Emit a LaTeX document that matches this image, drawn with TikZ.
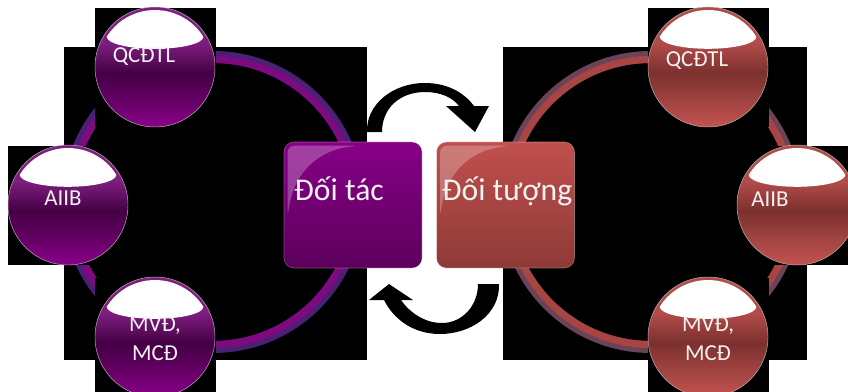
\documentclass[tikz,border=0pt]{standalone}
\usepackage{fontspec}
\setmainfont{Carlito}
\usetikzlibrary{calc}

\definecolor{ringviolet}{HTML}{4B1F74}
\definecolor{ringplum}{HTML}{7D0A7F}
\definecolor{ringgrey}{HTML}{6B4358}
\definecolor{ringred}{HTML}{A84543}
\definecolor{sqplumtop}{HTML}{870087}
\definecolor{sqplumbot}{HTML}{5C005C}
\definecolor{sqredtop}{HTML}{C0504D}
\definecolor{sqredbot}{HTML}{8E3936}
\definecolor{txtwhite}{HTML}{F2F2F2}
% ball colours, bottom to top
\definecolor{plumA}{HTML}{8A008A}
\definecolor{plumB}{HTML}{680068}
\definecolor{plumC}{HTML}{440044}
\definecolor{plumD}{HTML}{7E1E80}
\definecolor{redA}{HTML}{C4524F}
\definecolor{redB}{HTML}{A44543}
\definecolor{redC}{HTML}{7C302E}
\definecolor{redD}{HTML}{B24C4A}
\pgfdeclareverticalshading{plumshade}{100bp}{color(0bp)=(plumA); color(25bp)=(plumA); color(35bp)=(plumB); color(47.5bp)=(plumC); color(60bp)=(plumD); color(100bp)=(plumD)}
\pgfdeclareverticalshading{redshade}{100bp}{color(0bp)=(redA); color(25bp)=(redA); color(35bp)=(redB); color(47.5bp)=(redC); color(60bp)=(redD); color(100bp)=(redD)}

\tikzset{ball/.style={circle, inner sep=0pt, outer sep=0pt, minimum size=3.6cm, draw=gray!55, line width=0.4pt},
  ballp/.style={ball, shading=plumshade},
  ballr/.style={ball, shading=redshade},
  card/.style={rounded corners=0.3cm, minimum width=4.14cm, minimum height=3.78cm, inner sep=0pt, draw=white, draw opacity=0.3, line width=0.5pt},
  balltxt/.style={text=txtwhite, font=\fontsize{19.5}{24.75}\selectfont, align=center, inner sep=0pt},
  cardtxt/.style={text=txtwhite, font=\fontsize{27}{32}\selectfont, inner sep=0pt},
  gloss/.style={fill=white, opacity=0.25, rounded corners=0.2cm}}

\begin{document}
\begin{tikzpicture}[x=0.03cm,y=0.03cm]
\fill[white] (0,0) rectangle (848,-391);
\useasboundingbox (0,0) rectangle (848,-391);

% dark backdrops
\fill[black] (64,-47) rectangle (367,-360);
\fill[black] (503,-47) rectangle (807,-360);

% rings
\coordinate (lc) at (213,-202);
\coordinate (rc) at (651,-202);
\draw[ringviolet, line width=0.36cm] (lc) circle (145);
\draw[ringplum, line width=0.21cm] (lc) circle (142.5);
\draw[ringgrey, line width=0.36cm] (rc) circle (145);
\draw[ringred, line width=0.21cm] (rc) circle (142.5);

% balls
\foreach \nm/\x/\y/\sty in {lq/155/67/ballp, la/68/205/ballp, lm/155/337/ballp, rq/708/67/ballr, ra/797/205/ballr, rm/708/337/ballr}{
    \fill[black] (\x-60,-\y+59) rectangle (\x+61,-\y-60);
    \node[\sty] (\nm) at (\x,-\y) {};
    \fill[white] ($(\nm)+(148:57)$) arc[start angle=148, end angle=32, radius=57]
        arc[start angle=0, end angle=-180, x radius=48.3, y radius=12] -- cycle;
}
\node[balltxt, anchor=base] (lq-t) at (144,-62) {QCĐTL};
\node[balltxt, anchor=base] (la-t) at (63,-205) {AIIB};
\node[balltxt] (lm-t) at (155,-339) {MVĐ,\\MCĐ};
\node[balltxt, anchor=base] (rq-t) at (697,-66) {QCĐTL};
\node[balltxt, anchor=base] (ra-t) at (770,-206) {AIIB};
\node[balltxt] (rm-t) at (708,-339) {MVĐ,\\MCĐ};

% cards
\node[card, top color=sqplumtop, bottom color=sqplumbot] (doitac) at (353,-205) {};
\node[card, top color=sqredtop, bottom color=sqredbot] (doituong) at (505.5,-205) {};
\foreach \nm in {doitac, doituong}{
    \fill[gloss] ($(\nm.north west)+(4,-4)$) -- ($(\nm.north west)+(75,-4)$)
        .. controls ($(\nm.north west)+(35,-8)$) and ($(\nm.north west)+(10,-30)$) .. ($(\nm.north west)+(4,-75)$) -- cycle;
}
\node[cardtxt, anchor=base] (tac-t) at (339,-200) {Đối tác};
\node[cardtxt, anchor=base] (tuong-t) at (507,-200) {Đối tượng};

% bent arrows
\fill[black] (367,-132) .. controls (366,-105) and (392,-83) .. (425,-83)
    .. controls (450,-83) and (466,-95) .. (474,-106) -- (489,-106) -- (475,-132) -- (446,-106) -- (459,-106)
    .. controls (452,-97) and (440,-92) .. (425,-92) .. controls (400,-92) and (382,-108) .. (382,-132) -- cycle;
\fill[black] (499,-284) .. controls (500,-315) and (470,-334) .. (440,-334)
    .. controls (412,-334) and (393,-318) .. (384,-300) -- (369,-300) -- (389,-284) -- (413,-300) -- (401,-300)
    .. controls (410,-313) and (425,-323) .. (442,-323) .. controls (462,-323) and (478,-306) .. (478,-284) -- cycle;
\end{tikzpicture}
\end{document}
